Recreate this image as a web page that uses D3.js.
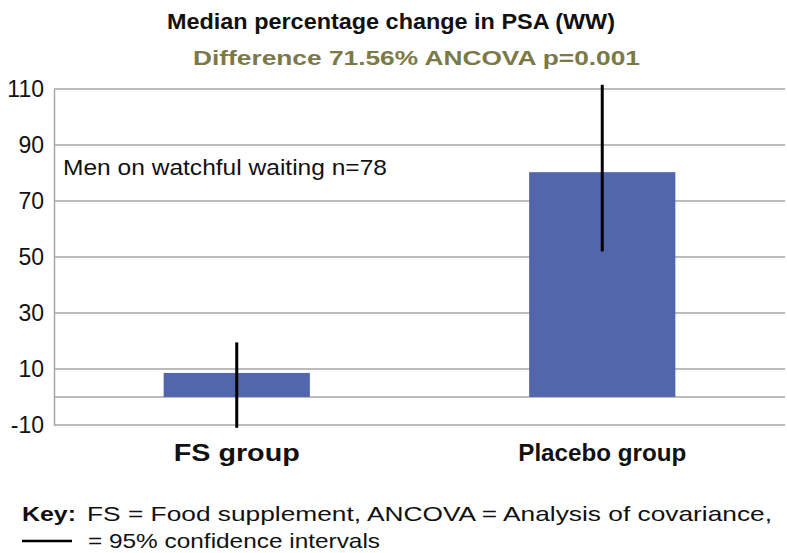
<!DOCTYPE html>
<html>
<head>
<meta charset="utf-8">
<script src="https://cdn.jsdelivr.net/npm/d3@7"></script>
<style>
  body { margin: 0; background: #fff; }
  svg text { font-family: "Liberation Sans", Arial, sans-serif; }
</style>
</head>
<body>
<svg id="chart" width="787" height="553"></svg>
<script>
// data
var groups = ["FS group", "Placebo group"];
var medians = [8.6, 80.3];
var ciLow = [-11, 52];
var ciHigh = [19.5, 111.5];
var tickValues = [-10, 10, 30, 50, 70, 90, 110];
var gridValues = [-10, 0, 10, 30, 50, 70, 90, 110];

var svg = d3.select("#chart");
var margin = {top: 89, right: 2, bottom: 128, left: 54};
var width = 787 - margin.left - margin.right,
    height = 553 - margin.top - margin.bottom;

var x = d3.scaleBand().domain(groups).range([0, width]).paddingInner(0.6).paddingOuter(0.3);
var y = d3.scaleLinear().domain([-10, 110]).range([height, 0]);

var g = svg.append("g").attr("transform", "translate(" + margin.left + "," + margin.top + ")");

// gridlines
g.selectAll("line.grid")
  .data(gridValues)
  .enter().append("line")
  .attr("class", "grid")
  .attr("x1", 0).attr("x2", width)
  .attr("y1", function(d) { return y(d); })
  .attr("y2", function(d) { return y(d); })
  .attr("stroke", "#a6a6a6")
  .attr("stroke-width", 1.5);

// y axis
var yAxis = d3.axisLeft(y).tickValues(tickValues).tickSize(0).tickPadding(10)
  .tickFormat(function(d) { return d < 0 ? "-" + Math.abs(d) : d; });
var ya = g.append("g").call(yAxis);
ya.select(".domain").attr("stroke", "#a6a6a6").attr("stroke-width", 1.5);
ya.selectAll("text")
  .style("font-size", "23px")
  .attr("fill", "#111");

// bars
g.selectAll("rect.bar")
  .data(medians)
  .enter().append("rect")
  .attr("class", "bar")
  .attr("x", function(d, i) { return x(groups[i]); })
  .attr("width", x.bandwidth())
  .attr("y", function(d) { return y(d); })
  .attr("height", function(d) { return y(0) - y(d); })
  .attr("fill", "#5166ab");

// confidence intervals
g.selectAll("line.ci")
  .data(groups)
  .enter().append("line")
  .attr("class", "ci")
  .attr("x1", function(d) { return x(d) + x.bandwidth() / 2; })
  .attr("x2", function(d) { return x(d) + x.bandwidth() / 2; })
  .attr("y1", function(d, i) { return y(ciHigh[i]); })
  .attr("y2", function(d, i) { return y(ciLow[i]); })
  .attr("stroke", "#000")
  .attr("stroke-width", 3);

// category labels
var catWidth = [126, 168];
g.selectAll("text.cat")
  .data(groups)
  .enter().append("text")
  .attr("class", "cat")
  .attr("x", function(d) { return x(d) + x.bandwidth() / 2; })
  .attr("y", height + 36)
  .attr("text-anchor", "middle")
  .attr("textLength", function(d, i) { return catWidth[i]; })
  .attr("lengthAdjust", "spacingAndGlyphs")
  .style("font-size", "24px")
  .style("font-weight", "bold")
  .attr("fill", "#111")
  .text(function(d) { return d; });

// annotation
g.append("text")
  .attr("x", 9).attr("y", y(80) + 2)
  .attr("textLength", 324)
  .attr("lengthAdjust", "spacingAndGlyphs")
  .style("font-size", "22px")
  .attr("fill", "#111")
  .text("Men on watchful waiting n=78");

// titles
svg.append("text")
  .attr("x", 167).attr("y", 29)
  .attr("textLength", 448)
  .attr("lengthAdjust", "spacingAndGlyphs")
  .style("font-size", "22px")
  .style("font-weight", "bold")
  .attr("fill", "#111")
  .text("Median percentage change in PSA (WW)");

svg.append("text")
  .attr("x", 193).attr("y", 65)
  .attr("textLength", 447)
  .attr("lengthAdjust", "spacingAndGlyphs")
  .style("font-size", "21px")
  .style("font-weight", "bold")
  .attr("fill", "#7b7a47")
  .text("Difference 71.56% ANCOVA p=0.001");

// key
svg.append("text")
  .attr("x", 22).attr("y", 521)
  .attr("textLength", 54)
  .attr("lengthAdjust", "spacingAndGlyphs")
  .style("font-size", "21px")
  .style("font-weight", "bold")
  .attr("fill", "#111")
  .text("Key:");

svg.append("text")
  .attr("x", 87).attr("y", 521)
  .attr("textLength", 685)
  .attr("lengthAdjust", "spacingAndGlyphs")
  .style("font-size", "21px")
  .attr("fill", "#111")
  .text("FS = Food supplement, ANCOVA = Analysis of covariance,");

svg.append("line")
  .attr("x1", 22).attr("x2", 72)
  .attr("y1", 541).attr("y2", 541)
  .attr("stroke", "#000").attr("stroke-width", 2.5);

svg.append("text")
  .attr("x", 88).attr("y", 548)
  .attr("textLength", 292)
  .attr("lengthAdjust", "spacingAndGlyphs")
  .style("font-size", "21px")
  .attr("fill", "#111")
  .text("= 95% confidence intervals");
</script>
</body>
</html>
